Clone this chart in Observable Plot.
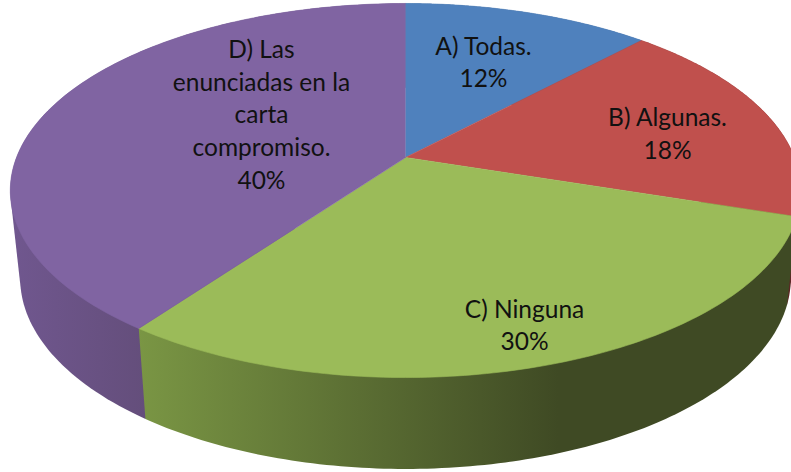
<!DOCTYPE html>
<html><head><meta charset="utf-8">
<script src="https://cdn.jsdelivr.net/npm/d3@7"></script>
<script src="https://cdn.jsdelivr.net/npm/@observablehq/plot@0.6"></script>
<style>html,body{margin:0;padding:0;background:#fff}svg{display:block}</style>
</head><body><div id="chart"></div>
<script>
const categories = ["A) Todas.", "B) Algunas.", "C) Ninguna", "D) Las\nenunciadas en la\ncarta\ncompromiso."];
const shares = [12, 18, 30, 40];
const topColors = ["#4f81bd", "#c0504d", "#9bbb59", "#8064a2"];
const wallGradients = [
  [["0%", "#3a5a80"], ["100%", "#3a5a80"]],
  [["0%", "#5c2624"], ["100%", "#5c2624"]],
  [["0%", "#7a9644"], ["64%", "#3f4a24"], ["100%", "#3f4a24"]],
  [["0%", "#70578f"], ["100%", "#644e7b"]]
];
const labelFractions = [0.057, 0.2172, 0.4487, 0.8432];
const labelRadii = [0.6313, 0.7056, 0.8314, 0.4644];

// perspective of the tilted disc
const view = {cx: 405, cy: 157, ax: 389, ay: 181.2, k: 0.1765, shrink: 0.975, depth: 87, stretch: 1.02};
function project(f, r = 1, wall = false) {
  const a = f * 2 * Math.PI, u = r * Math.sin(a), v = -r * Math.cos(a);
  const w = 1 - view.k * v;
  let dx = view.ax * u / w, dy = view.ay * v / w;
  if (wall) { dx *= view.shrink; dy = dy * view.stretch + view.depth; }
  return [view.cx + dx, view.cy + dy];
}
const total = d3.sum(shares);
const cum = d3.cumsum(shares).map(d => d / total);
const slices = shares.map((s, i) => ({i, f0: i ? cum[i - 1] : 0, f1: cum[i]}));
const arcFs = s => d3.range(0, 121).map(j => s.f0 + (s.f1 - s.f0) * j / 120);

const topPts = s => [project(0, 0), ...arcFs(s).map(f => project(f))].map(([x, y]) => ({x, y}));
const wallPts = s => d3.polygonHull([...arcFs(s).map(f => project(f)), ...arcFs(s).map(f => project(f, 1, true))]).map(([x, y]) => ({x, y}));

const labels = categories.map((c, i) => {
  const [x, y] = project(labelFractions[i], labelRadii[i]);
  return {x, y, text: `${c}\n${shares[i]}%`};
});

const wallOrder = [0, 1, 3, 2];
const plot = Plot.plot({
  width: 791, height: 472, margin: 0,
  x: {domain: [0, 791], range: [0, 791], axis: null},
  y: {domain: [0, 472], range: [0, 472], axis: null},
  style: {background: "#fff"},
  marks: [
    ...wallOrder.map(i => Plot.line(wallPts(slices[i]), {x: "x", y: "y", fill: `url(#wall${i})`, stroke: "none", curve: "linear"})),
    ...slices.map(s => Plot.line(topPts(s), {x: "x", y: "y", fill: topColors[s.i], stroke: topColors[s.i], strokeWidth: 0.6, curve: "linear"})),
    Plot.text(labels, {x: "x", y: "y", text: "text", textAnchor: "middle", lineAnchor: "middle", lineHeight: 1.33, fontSize: 24.5, fontFamily: "Lato, Carlito, sans-serif", fill: "#111"})
  ]
});
// wall shading
const svg = d3.select(plot);
const defs = svg.insert("defs", ":first-child");
const spans = [[405, 640], [640, 795], [137, 795], [10, 145]];
wallGradients.forEach((stops, i) => {
  const g = defs.append("linearGradient").attr("id", `wall${i}`).attr("gradientUnits", "userSpaceOnUse")
    .attr("x1", spans[i][0]).attr("x2", spans[i][1]).attr("y1", 0).attr("y2", 0);
  stops.forEach(([o, c]) => g.append("stop").attr("offset", o).attr("stop-color", c));
});
document.getElementById("chart").append(plot);
</script></body></html>
